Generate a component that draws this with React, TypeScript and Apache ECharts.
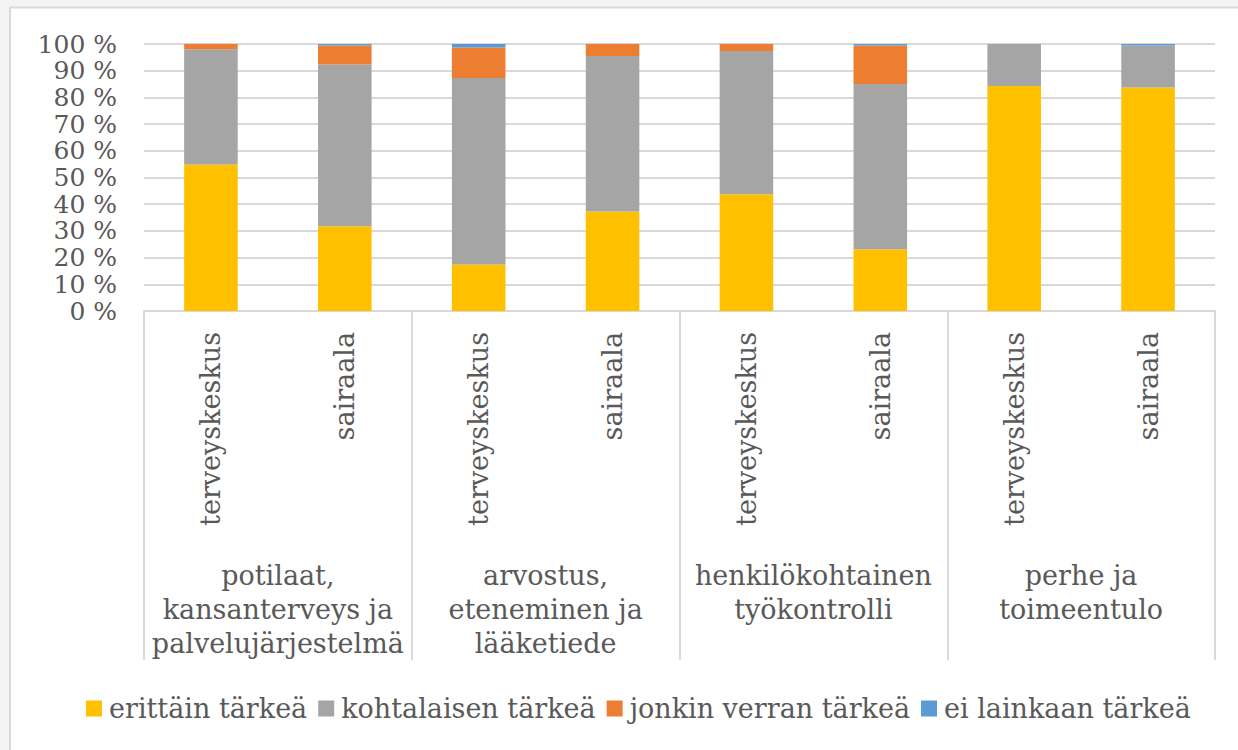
import React, { useEffect, useRef } from "react";
import * as echarts from "echarts";

const subCategories = [
  "terveyskeskus", "sairaala",
  "terveyskeskus", "sairaala",
  "terveyskeskus", "sairaala",
  "terveyskeskus", "sairaala",
];
const groupCategories = [
  "potilaat,\nkansanterveys ja\npalvelujärjestelmä",
  "arvostus,\neteneminen ja\nlääketiede",
  "henkilökohtainen\ntyökontrolli",
  "perhe ja\ntoimeentulo",
];
const seriesNames = ["erittäin tärkeä", "kohtalaisen tärkeä", "jonkin verran tärkeä", "ei lainkaan tärkeä"];
const erittain = [54.9, 31.7, 17.4, 37.3, 43.7, 23.1, 84.3, 83.7];
const kohtalaisen = [43.1, 60.7, 69.9, 58.2, 53.7, 61.9, 15.7, 15.7];
const jonkin = [2.0, 7.0, 11.4, 4.5, 2.6, 14.4, 0, 0];
const eiLainkaan = [0, 0.6, 1.3, 0, 0, 0.6, 0, 0.6];
const colors = ["#FFC000", "#A5A5A5", "#ED7D31", "#5B9BD5"];

const FONT = "DejaVu Serif";
const TEXT = "#595959";

export default function App() {
  const ref = useRef<HTMLDivElement>(null);
  useEffect(() => {
    if (!ref.current) return;
    const chart = echarts.init(ref.current, null, { renderer: "svg" });
    const values = [erittain, kohtalaisen, jonkin, eiLainkaan];
    chart.setOption({
      animation: false,
      backgroundColor: "#ffffff",
      color: colors,
      textStyle: { fontFamily: FONT, color: TEXT },
      graphic: [
        { type: "rect", shape: { x: 0, y: 0, width: 1238, height: 7 }, style: { fill: "#f4f4f4" }, silent: true },
        { type: "rect", shape: { x: 0, y: 0, width: 9, height: 750 }, style: { fill: "#f4f4f4" }, silent: true },
        { type: "line", shape: { x1: 9, y1: 7.5, x2: 1238, y2: 7.5 }, style: { stroke: "#d9d9d9", lineWidth: 2 }, silent: true },
        { type: "line", shape: { x1: 10, y1: 7, x2: 10, y2: 750 }, style: { stroke: "#d9d9d9", lineWidth: 2 }, silent: true },
      ],
      grid: { left: 144, right: 23, top: 44, bottom: 439, containLabel: false },
      legend: {
        left: 81,
        top: 690,
        itemWidth: 16,
        itemHeight: 16,
        itemGap: 11,
        icon: "rect",
        textStyle: { fontFamily: FONT, fontSize: 27, color: TEXT, padding: [0, 0, 0, 2] },
        data: seriesNames,
      },
      xAxis: [
        {
          type: "category",
          data: subCategories,
          position: "bottom",
          axisLine: { show: true, lineStyle: { color: "#d9d9d9", width: 2 } },
          axisTick: { show: false },
          axisLabel: {
            rotate: 90,
            interval: 0,
            margin: 21,
            fontFamily: FONT,
            fontSize: 27,
            color: TEXT,
          },
        },
        {
          type: "category",
          data: groupCategories,
          position: "bottom",
          axisLine: { show: false },
          axisTick: { show: true, length: 349, interval: 0, lineStyle: { color: "#d9d9d9", width: 2 } },
          axisLabel: {
            interval: 0,
            margin: 247,
            fontFamily: FONT,
            fontSize: 27,
            lineHeight: 34,
            color: TEXT,
            align: "center",
          },
        },
      ],
      yAxis: {
        type: "value",
        min: 0,
        max: 100,
        interval: 10,
        axisLine: { show: false },
        axisTick: { show: false },
        splitLine: { lineStyle: { color: "#d9d9d9", width: 2 } },
        axisLabel: {
          formatter: "{value} %",
          margin: 27,
          fontFamily: FONT,
          fontSize: 25,
          lineHeight: 24,
          color: TEXT,
        },
      },
      series: seriesNames.map((name, i) => ({
        name,
        type: "bar",
        stack: "total",
        barWidth: "40%",
        xAxisIndex: 0,
        data: values[i],
        itemStyle: { color: colors[i] },
      })),
    });
    return () => chart.dispose();
  }, []);
  return (
    <div style={{ position: "fixed", left: 0, top: 0, width: 1238, height: 750 }}>
      <div ref={ref} style={{ width: 1238, height: 750 }} />
    </div>
  );
}
